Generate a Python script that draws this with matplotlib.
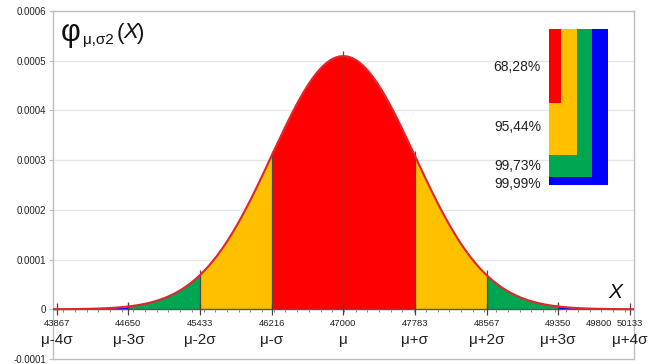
import numpy as np
import matplotlib
matplotlib.use("Agg")
import matplotlib.pyplot as plt
from matplotlib.patches import Rectangle

plt.rcParams['font.family'] = ['Liberation Sans', 'DejaVu Sans']

# Distribution parameters and the sigma boundaries shown on the axis
mu = 47000
sigma = 783.33
sigma_values = [43867, 44650, 45433, 46216, 47000, 47783, 48567, 49350, 50133]
sigma_names = ['μ-4σ', 'μ-3σ', 'μ-2σ', 'μ-σ', 'μ', 'μ+σ', 'μ+2σ', 'μ+3σ', 'μ+4σ']
extra_tick = 49800

# Coverage shares of the ±kσ bands
band_labels = ['68,28%', '95,44%', '99,73%', '99,99%']
band_colors = ['#ff0000', '#ffc000', '#00a651', '#0000ff']

W, H = 659, 364
fig = plt.figure(figsize=(W / 100, H / 100), dpi=100)
ax = fig.add_axes([52.5 / W, 5 / H, 581.5 / W, 348 / H])

x_lo, x_hi = 43820, 50180
y_lo, y_hi = -0.0001, 0.0006
ax.set_xlim(x_lo, x_hi)
ax.set_ylim(y_lo, y_hi)


def pdf(x):
    return np.exp(-0.5 * ((x - mu) / sigma) ** 2) / (sigma * np.sqrt(2 * np.pi))


# horizontal gridlines
for g in np.arange(1, 6) * 0.0001:
    ax.axhline(g, color='#e6e6e6', lw=1, zorder=0)

# coloured bands: ±σ red, σ..2σ yellow, 2σ..3σ green, 3σ..4σ blue
for k in range(4, 0, -1):
    a_lo, a_hi = sigma_values[4 - k], sigma_values[4 + k]
    xs = np.linspace(a_lo, a_hi, 600)
    ax.fill_between(xs, 0, pdf(xs), color=band_colors[k - 1], lw=0, zorder=1)

# vertical boundary lines
for v in sigma_values[1:-1]:
    ax.vlines(v, 0, pdf(v) + 0.00001, color='#4d4d4d', lw=0.9, zorder=3)

# zero axis with tick marks
ax.hlines(0, x_lo, x_hi, color='#555555', lw=1, zorder=4)
ax.vlines(sigma_values, -0.000012, 0.000012, color='#444444', lw=0.9, zorder=4)
minor = np.arange(43808, x_hi, 128)
ax.vlines(minor, -0.000006, 0, color='#888888', lw=0.7, zorder=4)

# density curve
xx = np.linspace(x_lo, x_hi, 1500)
ax.plot(xx, pdf(xx), color='#e0262c', lw=1.5, zorder=5)

# axis tick labels: values and sigma names
for v, name in zip(sigma_values, sigma_names):
    ax.text(v, -0.0000282, f'{v}', ha='center', va='center', fontsize=6.8, color='#222222')
    ax.text(v, -0.0000618, name, ha='center', va='center', fontsize=11, color='#222222')
ax.text(extra_tick, -0.0000282, f'{extra_tick}', ha='center', va='center', fontsize=6.8, color='#222222')

# frame and y axis
for s in ax.spines.values():
    s.set_color('#bdbdbd')
    s.set_linewidth(1)
ax.set_xticks([])
yt = np.arange(-1, 7) * 0.0001
ax.set_yticks(yt)
ax.set_yticklabels(['-0.0001', '0', '0.0001', '0.0002', '0.0003', '0.0004', '0.0005', '0.0006'])
ax.tick_params(axis='y', direction='out', length=3, color='#bdbdbd', labelsize=7,
               labelcolor='#222222', pad=1.5)

# nested coverage legend
lx0 = 0.854
rects = [(0.874, 0.736), (0.902, 0.586), (0.928, 0.523), (0.955, 0.500)]
for (rx, ry), col in reversed(list(zip(rects, band_colors))):
    ax.add_patch(Rectangle((lx0, ry), rx - lx0, 0.948 - ry, transform=ax.transAxes,
                           facecolor=col, edgecolor='none', zorder=6))
for lab, ly in zip(band_labels, [0.840, 0.667, 0.555, 0.503]):
    ax.text(0.840, ly, lab, transform=ax.transAxes, ha='right', va='center',
            fontsize=10, color='#222222', zorder=6)


def px(x, y):
    return x / W, 1 - y / H


# title φ_{μ,σ2}(X)
fig.text(*px(61, 33), 'φ', fontsize=22, ha='left', va='center', color='#111111')
fig.text(*px(83, 40), 'μ,σ2', fontsize=11, ha='left', va='center', color='#111111')
fig.text(*px(117, 33), '(', fontsize=16, ha='left', va='center', color='#111111')
fig.text(*px(123, 33), 'X', fontsize=16, ha='left', va='center', color='#111111',
         style='italic')
fig.text(*px(136.5, 33), ')', fontsize=16, ha='left', va='center', color='#111111')
fig.text(*px(615, 293), 'X', fontsize=15, ha='center', va='center', color='#111111',
         style='italic')

fig.savefig('out.png', dpi=100)
